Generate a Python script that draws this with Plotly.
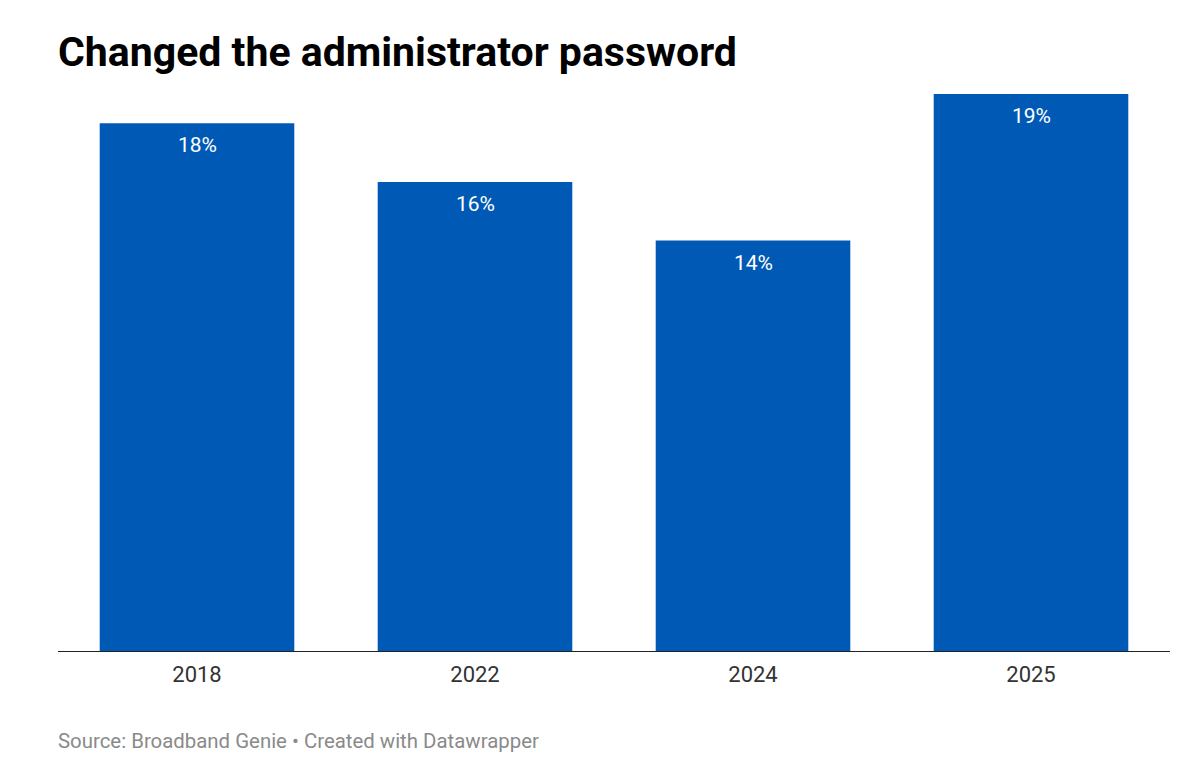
import plotly.graph_objects as go

years = ["2018", "2022", "2024", "2025"]
values = [18, 16, 14, 19]
labels = ["18%", "16%", "14%", "19%"]

# page has an 8px body margin
W, H = 1172, 764
OFF = 8
fig = go.Figure()
fig.add_trace(go.Bar(
    x=years, y=values, marker=dict(color="#005ab5", line=dict(width=0)),
    hoverinfo="skip", width=0.7,
))
for i, (v, t) in enumerate(zip(values, labels)):
    fig.add_annotation(x=i, y=v, text=t, showarrow=False, yshift=-22,
                       xref="x", yref="y", yanchor="middle",
                       font=dict(family="Roboto", size=21, color="white"))

fig.add_annotation(text="Source: Broadband Genie • Created with Datawrapper",
                   xref="paper", yref="paper", x=0, y=-(741 - 651) / (651 - 94),
                   xanchor="left", yanchor="middle", showarrow=False, xshift=-2,
                   font=dict(family="Roboto", size=20.4, color="#8a8a8a"))

fig.update_layout(
    width=W, height=H,
    margin=dict(l=58 - OFF, r=(OFF + W) - 1170, t=94 - OFF, b=(OFF + H) - 651),
    paper_bgcolor="white", plot_bgcolor="white",
    showlegend=False,
    title=dict(text="<b>Changed the administrator password</b>",
               xref="container", yref="container",
               x=(58 - OFF) / W, y=1 - (52 - OFF) / H, xanchor="left", yanchor="middle",
               font=dict(family="Roboto", size=41, color="black")),
    xaxis=dict(type="category", categoryorder="array", categoryarray=years,
               range=[-0.5, len(years) - 0.5],
               showline=True, linecolor="#222", linewidth=1.3, ticks="",
               showgrid=False, ticklabelstandoff=3,
               tickfont=dict(family="Roboto", size=22, color="#333")),
    yaxis=dict(range=[0, 19], visible=False, showgrid=False),
)
fig.write_html("out.html")
